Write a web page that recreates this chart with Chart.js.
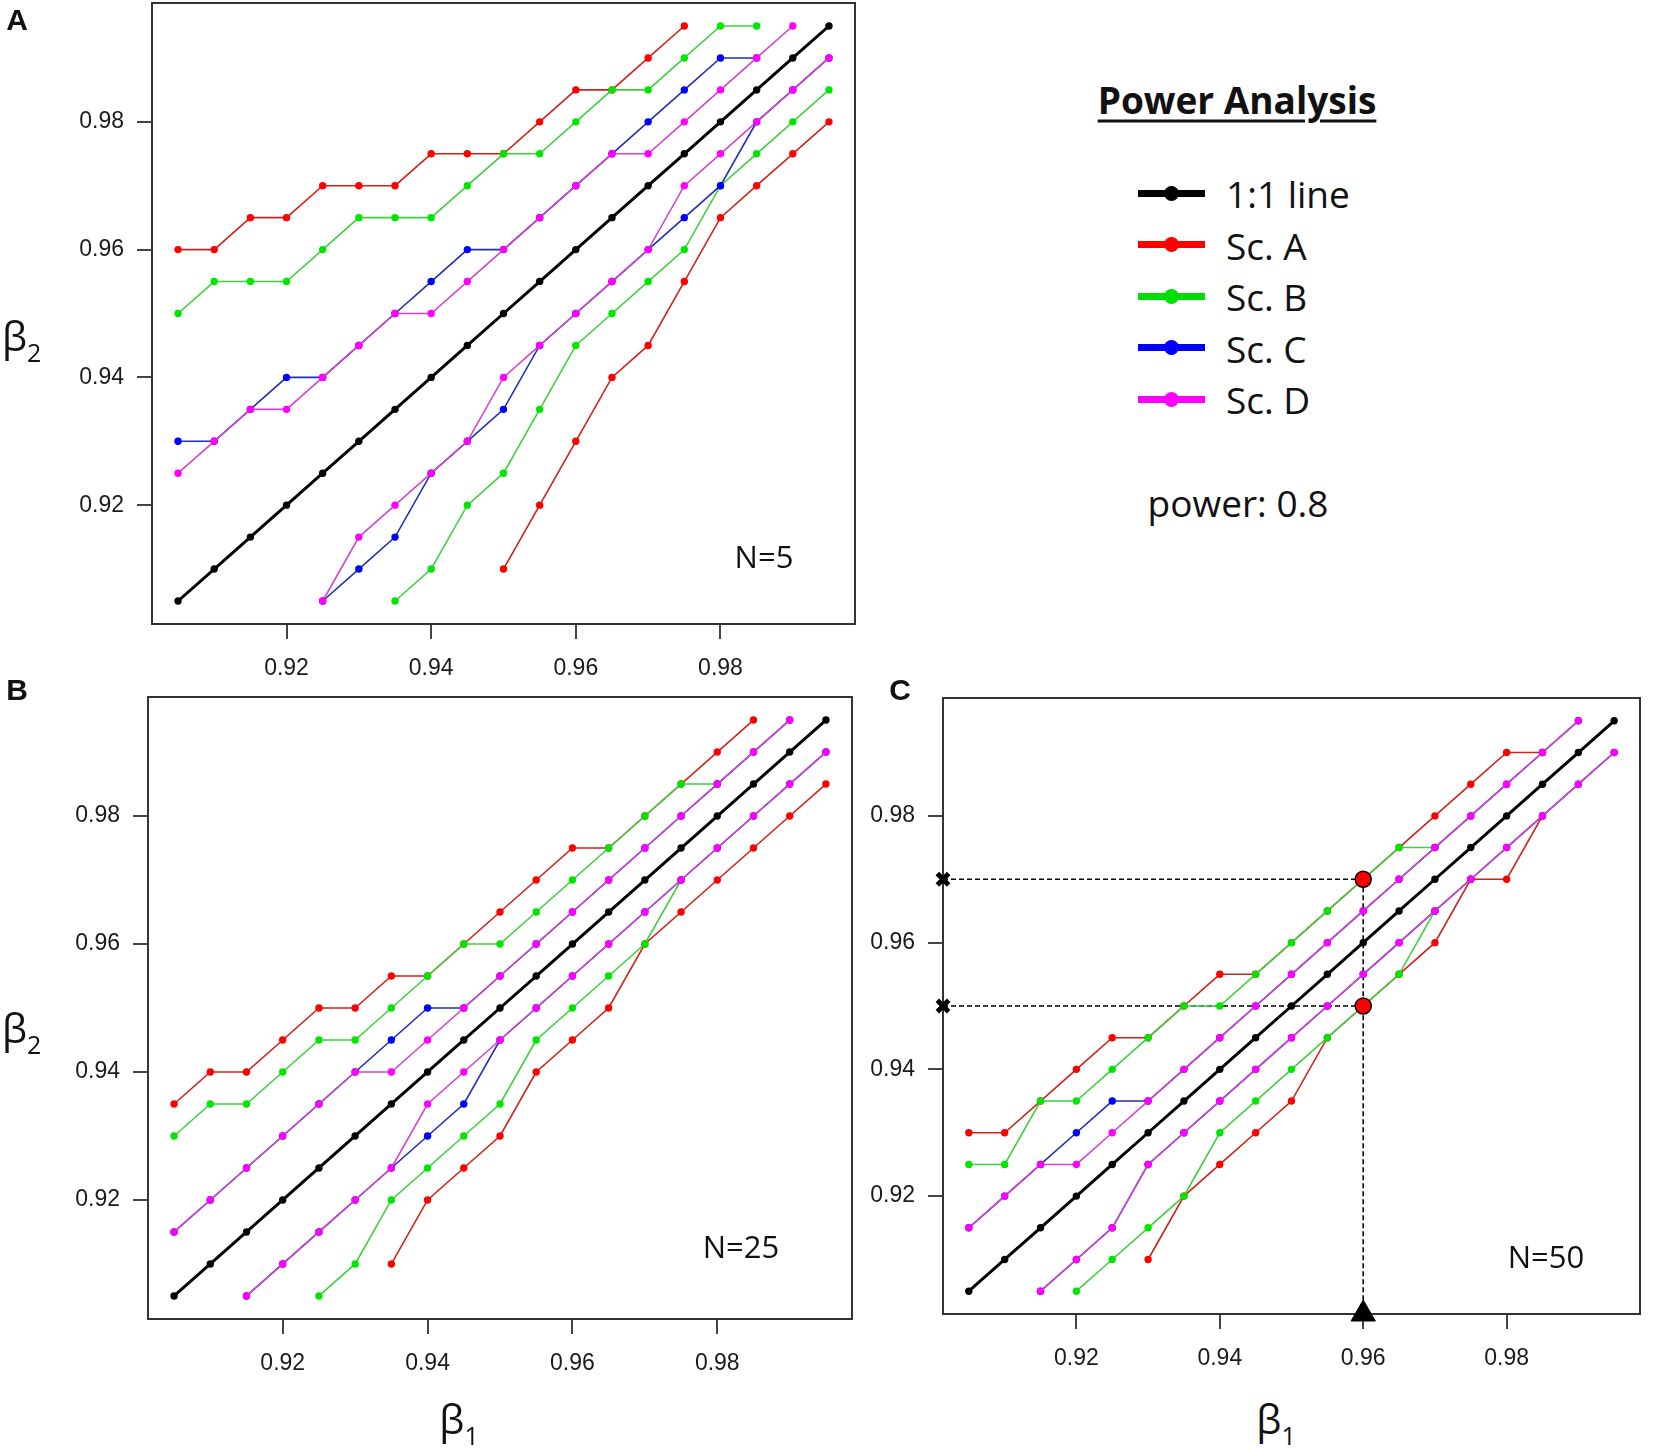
<!DOCTYPE html>
<html>
<head>
<meta charset="utf-8">
<script src="https://cdn.jsdelivr.net/npm/chart.js@4.4.1/dist/chart.umd.min.js"></script>
<style>
  html, body { margin: 0; padding: 0; background: #fff; }
  #page { position: relative; width: 1655px; height: 1449px; overflow: hidden; }
  canvas { position: absolute; }
  .t { position: absolute; white-space: nowrap; line-height: 1; color: #111; }
  .c { transform: translate(-50%, -50%); }
  .lbl { font-family: 'Liberation Sans', Arial, sans-serif; font-weight: bold; font-size: 30px; }
  .os { font-family: 'Open Sans', sans-serif; }
  .beta { font-size: 40px; }
  .beta span { font-size: 25px; position: relative; top: 11px; }
  .nlab { font-size: 31px; }
  .legtxt { font-size: 37px; }
  .sym { position: absolute; left: 1138px; width: 67px; height: 7px; }
  .sym i { position: absolute; left: 26px; top: -4px; width: 15px; height: 15px; border-radius: 50%; }
</style>
</head>
<body>
<div id="page">
  <canvas id="cA"></canvas>
  <canvas id="cB"></canvas>
  <canvas id="cC"></canvas>

  <div class="t lbl c" style="left:17px;top:20px;">A</div>
  <div class="t lbl c" style="left:17px;top:690px;">B</div>
  <div class="t lbl c" style="left:900px;top:690px;">C</div>

  <div class="t os beta" style="left:2px;top:316px;">β<span>2</span></div>
  <div class="t os beta" style="left:2px;top:1008px;">β<span>2</span></div>
  <div class="t os beta c" style="left:459px;top:1419px;">β<span>1</span></div>
  <div class="t os beta c" style="left:1276px;top:1419px;">β<span>1</span></div>

  <div class="t os nlab c" style="left:764px;top:556px;">N=5</div>
  <div class="t os nlab c" style="left:741px;top:1246px;">N=25</div>
  <div class="t os nlab c" style="left:1546px;top:1256px;">N=50</div>

  <div class="t os legtxt c" style="left:1237px;top:99px;font-weight:bold;text-decoration:underline;text-decoration-thickness:3px;text-underline-offset:6px;">Power Analysis</div>
  <div id="legend"></div>
  <div class="t os legtxt c" style="left:1238px;top:502px;">power: 0.8</div>
</div>

<script>
// ---------- data ----------
// beta1 values (x) shared by every curve
const beta1 = [0.905, 0.91, 0.915, 0.92, 0.925, 0.93, 0.935, 0.94, 0.945, 0.95,
               0.955, 0.96, 0.965, 0.97, 0.975, 0.98, 0.985, 0.99, 0.995];
const lineOneToOne = [0.905, 0.91, 0.915, 0.92, 0.925, 0.93, 0.935, 0.94, 0.945, 0.95,
                      0.955, 0.96, 0.965, 0.97, 0.975, 0.98, 0.985, 0.99, 0.995];
const tickVals = [0.92, 0.94, 0.96, 0.98];
const legendLabels = ['1:1 line', 'Sc. A', 'Sc. B', 'Sc. C', 'Sc. D'];
const n = null;

// ---- panel A, N=5 (beta2 per beta1, upper and lower curves) ----
const A_scA_up = [0.96, 0.96, 0.965, 0.965, 0.97, 0.97, 0.97, 0.975, 0.975, 0.975, 0.98, 0.985, 0.985, 0.99, 0.995, n, n, n, n];
const A_scA_lo = [n, n, n, n, n, n, n, n, n, 0.91, 0.92, 0.93, 0.94, 0.945, 0.955, 0.965, 0.97, 0.975, 0.98];
const A_scB_up = [0.95, 0.955, 0.955, 0.955, 0.96, 0.965, 0.965, 0.965, 0.97, 0.975, 0.975, 0.98, 0.985, 0.985, 0.99, 0.995, 0.995, n, n];
const A_scB_lo = [n, n, n, n, n, n, 0.905, 0.91, 0.92, 0.925, 0.935, 0.945, 0.95, 0.955, 0.96, 0.97, 0.975, 0.98, 0.985];
const A_scC_up = [0.93, 0.93, 0.935, 0.94, 0.94, 0.945, 0.95, 0.955, 0.96, 0.96, 0.965, 0.97, 0.975, 0.98, 0.985, 0.99, 0.99, n, n];
const A_scC_lo = [n, n, n, n, 0.905, 0.91, 0.915, 0.925, 0.93, 0.935, 0.945, 0.95, 0.955, 0.96, 0.965, 0.97, 0.98, 0.985, 0.99];
const A_scD_up = [0.925, 0.93, 0.935, 0.935, 0.94, 0.945, 0.95, 0.95, 0.955, 0.96, 0.965, 0.97, 0.975, 0.975, 0.98, 0.985, 0.99, 0.995, n];
const A_scD_lo = [n, n, n, n, 0.905, 0.915, 0.92, 0.925, 0.93, 0.94, 0.945, 0.95, 0.955, 0.96, 0.97, 0.975, 0.98, 0.985, 0.99];

// ---- panel B, N=25 ----
const B_scA_up = [0.935, 0.94, 0.94, 0.945, 0.95, 0.95, 0.955, 0.955, 0.96, 0.965, 0.97, 0.975, 0.975, 0.98, 0.985, 0.99, 0.995, n, n];
const B_scA_lo = [n, n, n, n, n, n, 0.91, 0.92, 0.925, 0.93, 0.94, 0.945, 0.95, 0.96, 0.965, 0.97, 0.975, 0.98, 0.985];
const B_scB_up = [0.93, 0.935, 0.935, 0.94, 0.945, 0.945, 0.95, 0.955, 0.96, 0.96, 0.965, 0.97, 0.975, 0.98, 0.985, 0.985, n, n, n];
const B_scB_lo = [n, n, n, n, 0.905, 0.91, 0.92, 0.925, 0.93, 0.935, 0.945, 0.95, 0.955, 0.96, 0.97, n, n, n, n];
const B_scC_up = [0.915, 0.92, 0.925, 0.93, 0.935, 0.94, 0.945, 0.95, 0.95, 0.955, 0.96, 0.965, 0.97, 0.975, 0.98, 0.985, 0.99, 0.995, n];
const B_scC_lo = [n, n, 0.905, 0.91, 0.915, 0.92, 0.925, 0.93, 0.935, 0.945, 0.95, 0.955, 0.96, 0.965, 0.97, 0.975, 0.98, 0.985, 0.99];
const B_scD_up = [0.915, 0.92, 0.925, 0.93, 0.935, 0.94, 0.94, 0.945, 0.95, 0.955, 0.96, 0.965, 0.97, 0.975, 0.98, 0.985, 0.99, 0.995, n];
const B_scD_lo = [n, n, 0.905, 0.91, 0.915, 0.92, 0.925, 0.935, 0.94, 0.945, 0.95, 0.955, 0.96, 0.965, 0.97, 0.975, 0.98, 0.985, 0.99];

// ---- panel C, N=50 ----
const C_scA_up = [0.93, 0.93, 0.935, 0.94, 0.945, 0.945, 0.95, 0.955, 0.955, 0.96, 0.965, 0.97, 0.975, 0.98, 0.985, 0.99, 0.99, n, n];
const C_scA_lo = [n, n, n, n, n, 0.91, 0.92, 0.925, 0.93, 0.935, 0.945, 0.95, 0.955, 0.96, 0.97, 0.97, 0.98, n, n];
const C_scB_up = [0.925, 0.925, 0.935, 0.935, 0.94, 0.945, 0.95, 0.95, 0.955, 0.96, 0.965, 0.97, 0.975, 0.975, n, n, n, n, n];
const C_scB_lo = [n, n, n, 0.905, 0.91, 0.915, 0.92, 0.93, 0.935, 0.94, 0.945, 0.95, 0.955, 0.965, n, n, n, n, n];
const C_scC_up = [0.915, 0.92, 0.925, 0.93, 0.935, 0.935, 0.94, 0.945, 0.95, 0.955, 0.96, 0.965, 0.97, 0.975, 0.98, 0.985, 0.99, 0.995, n];
const C_scC_lo = [n, n, 0.905, 0.91, 0.915, 0.925, 0.93, 0.935, 0.94, 0.945, 0.95, 0.955, 0.96, 0.965, 0.97, 0.975, 0.98, 0.985, 0.99];
const C_scD_up = [0.915, 0.92, 0.925, 0.925, 0.93, 0.935, 0.94, 0.945, 0.95, 0.955, 0.96, 0.965, 0.97, 0.975, 0.98, 0.985, 0.99, 0.995, n];
const C_scD_lo = [n, n, 0.905, 0.91, 0.915, 0.925, 0.93, 0.935, 0.94, 0.945, 0.95, 0.955, 0.96, 0.965, 0.97, 0.975, 0.98, 0.985, 0.99];

// example read-off in panel C (beta1 = 0.96 -> beta2 range)
const guideB1 = 0.96;
const guideB2 = [0.97, 0.95];

// ---------- styles ----------
const axMin = 0.9014, axMax = 0.9986;
const cols = {
  one: { line: '#000000', pt: '#000000' },
  A:   { line: '#cf2219', pt: '#ff0000' },
  B:   { line: '#3fcf3f', pt: '#00e600' },
  C:   { line: '#2030b0', pt: '#0000ff' },
  D:   { line: '#cf45cf', pt: '#ff00ff' }
};
const legendCols = ['#000000', '#ff0000', '#00e000', '#0000ff', '#ff00ff'];

// build the legend entries
let legend = document.getElementById('legend');
legendLabels.forEach((lab, i) => {
  let y = 193 + i * 51.5;
  let sym = document.createElement('div');
  sym.className = 'sym';
  sym.style.top = (y - 3.5) + 'px';
  sym.style.background = legendCols[i];
  let dot = document.createElement('i');
  dot.style.background = legendCols[i];
  sym.append(dot);
  legend.append(sym);
  let txt = document.createElement('div');
  txt.className = 't os legtxt';
  txt.style.left = '1226px';
  txt.style.top = y + 'px';
  txt.style.transform = 'translateY(-50%)';
  txt.innerText = lab;
  legend.append(txt);
});

// ---------- chart helpers ----------
function pts(ys) {
  return beta1.map((x, i) => ({ x: x, y: ys[i] })).filter(p => p.y !== null);
}

function curve(ys, c, order, width) {
  return {
    data: pts(ys),
    showLine: true,
    borderColor: c.line,
    borderWidth: width || 1.6,
    backgroundColor: c.pt,
    pointBackgroundColor: c.pt,
    pointBorderColor: c.pt,
    pointBorderWidth: 0,
    pointRadius: 3.7,
    tension: 0,
    order: order,
    clip: false
  };
}

function panelSets(up, lo) {
  // order: lower value drawn on top (Sc. D on top, 1:1 line at the bottom)
  return [
    curve(lineOneToOne, cols.one, 5, 3),
    curve(up.A, cols.A, 4), curve(lo.A, cols.A, 4),
    curve(up.B, cols.B, 3), curve(lo.B, cols.B, 3),
    curve(up.C, cols.C, 2), curve(lo.C, cols.C, 2),
    curve(up.D, cols.D, 1), curve(lo.D, cols.D, 1)
  ];
}

// box round the plot area, like base R graphics
const boxPlugin = {
  id: 'box',
  beforeDatasetsDraw(chart) {
    const { ctx, chartArea: a } = chart;
    ctx.save();
    ctx.strokeStyle = '#333';
    ctx.lineWidth = 2;
    ctx.strokeRect(a.left, a.top, a.right - a.left, a.bottom - a.top);
    ctx.restore();
  }
};

function axis(fitFn) {
  return {
    type: 'linear',
    min: axMin,
    max: axMax,
    afterBuildTicks: s => { s.ticks = tickVals.map(v => ({ value: v })); },
    afterFit: s => {
      fitFn(s);
      // no extra room for label overflow, the plot box is fixed
      s.paddingTop = 0; s.paddingBottom = 0; s.paddingLeft = 0; s.paddingRight = 0;
    },
    grid: { drawOnChartArea: false, drawTicks: true, tickLength: 15, color: '#444', lineWidth: 2 },
    border: { display: false },
    ticks: {
      color: '#1a1a1a',
      font: { family: "'Liberation Sans', Arial, sans-serif", size: 23 },
      callback: v => v.toFixed(2)
    }
  };
}

function makePanel(id, area, datasets) {
  const axW = 150, padT = 10, padR = 9, axH = 76;
  const cv = document.getElementById(id);
  cv.width = axW + area.w + padR;
  cv.height = padT + area.h + axH;
  cv.style.width = cv.width + 'px';
  cv.style.height = cv.height + 'px';
  cv.style.left = (area.x - axW) + 'px';
  cv.style.top = (area.y - padT) + 'px';

  let xAx = axis(s => { s.height = axH; });
  xAx.ticks.padding = 16;
  let yAx = axis(s => { s.width = axW; });
  yAx.ticks.padding = 13;

  return new Chart(cv, {
    type: 'scatter',
    data: { datasets: datasets },
    options: {
      responsive: false,
      animation: false,
      events: [],
      layout: { padding: { top: padT, right: padR, left: 0, bottom: 0 } },
      plugins: { legend: { display: false }, tooltip: { enabled: false } },
      scales: { x: xAx, y: yAx }
    },
    plugins: [boxPlugin]
  });
}

// ---------- panels ----------
makePanel('cA', { x: 152, y: 3, w: 703, h: 621 }, panelSets(
  { A: A_scA_up, B: A_scB_up, C: A_scC_up, D: A_scD_up },
  { A: A_scA_lo, B: A_scB_lo, C: A_scC_lo, D: A_scD_lo }));

makePanel('cB', { x: 148, y: 697, w: 704, h: 622 }, panelSets(
  { A: B_scA_up, B: B_scB_up, C: B_scC_up, D: B_scD_up },
  { A: B_scA_lo, B: B_scB_lo, C: B_scC_lo, D: B_scD_lo }));

// panel C with the dashed read-off guides
let setsC = panelSets(
  { A: C_scA_up, B: C_scB_up, C: C_scC_up, D: C_scD_up },
  { A: C_scA_lo, B: C_scB_lo, C: C_scC_lo, D: C_scD_lo });

guideB2.forEach(b2 => {
  setsC.push({
    data: [{ x: axMin, y: b2 }, { x: guideB1, y: b2 }],
    showLine: true, borderColor: '#000', borderWidth: 1.6, borderDash: [5, 3],
    pointRadius: 0, order: 6, clip: false
  });
});
setsC.push({
  data: [{ x: guideB1, y: Math.max(...guideB2) }, { x: guideB1, y: axMin }],
  showLine: true, borderColor: '#000', borderWidth: 1.6, borderDash: [5, 3],
  pointRadius: 0, order: 6, clip: false
});
setsC.push({
  data: guideB2.map(b2 => ({ x: guideB1, y: b2 })),
  showLine: false, pointRadius: 8, pointBackgroundColor: '#ff0000',
  pointBorderColor: '#000', pointBorderWidth: 1.5, order: 0, clip: false
});
setsC.push({
  data: guideB2.map(b2 => ({ x: axMin, y: b2 })),
  showLine: false, pointStyle: 'crossRot', pointRadius: 8,
  pointBorderColor: '#000', pointBorderWidth: 5, order: 0, clip: false
});
setsC.push({
  data: [{ x: guideB1, y: axMin }],
  showLine: false, pointStyle: 'triangle', pointRadius: 14,
  pointBackgroundColor: '#000', pointBorderColor: '#000', pointBorderWidth: 1, order: 0, clip: false
});

makePanel('cC', { x: 943, y: 693, w: 703, h: 621 }, setsC);
</script>
</body>
</html>
